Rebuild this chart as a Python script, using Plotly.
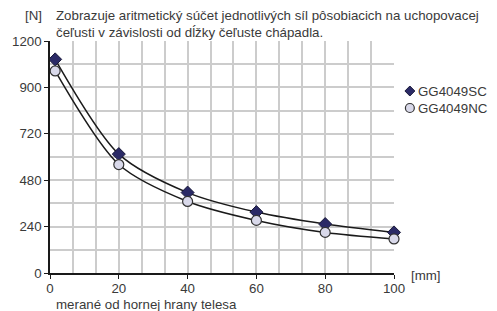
import plotly.graph_objects as go

x_sc = [1.5, 20, 40, 60, 80, 100]
y_sc = [1105, 615, 416, 315, 253, 210]
x_nc = [1.5, 20, 40, 60, 80, 100]
y_nc = [1045, 561, 370, 272, 210, 176]
series_names = ["GG4049SC", "GG4049NC"]
x_ticks = [0, 20, 40, 60, 80, 100]
y_tickvals = [0, 240, 480, 720, 960, 1200]
y_ticktext = ["0", "240", "480", "720", "900", "1200"]

FONT = "Liberation Sans, Arial, Helvetica, sans-serif"
TXT = "#3a3a3a"
SC_COL = "#2b2a66"
NC_COL = "#d9d9ea"
FS = 13.3

L, R, T, B = 47, 103, 41, 38
PW, PH = 497 - L - R, 311 - T - B


def px(xp):
    return (xp - L) / PW


def py(yp):
    return (311 - B - yp) / PH


fig = go.Figure()
for xs, ys in [(x_sc, y_sc), (x_nc, y_nc)]:
    fig.add_trace(go.Scatter(x=xs, y=ys, mode="lines",
                             line=dict(color="#1a1a1a", width=1.5, shape="spline", smoothing=0.8),
                             showlegend=False, hoverinfo="skip", cliponaxis=False))
fig.add_trace(go.Scatter(x=x_sc, y=y_sc, mode="markers", name=series_names[0], showlegend=False,
                         marker=dict(symbol="diamond", size=10, color=SC_COL, line=dict(color="#1a1a3a", width=1)),
                         cliponaxis=False))
fig.add_trace(go.Scatter(x=x_nc, y=y_nc, mode="markers", name=series_names[1], showlegend=False,
                         marker=dict(symbol="circle", size=10, color=NC_COL, line=dict(color="#333333", width=1.2)),
                         cliponaxis=False))

fig.update_layout(
    width=497, height=311,
    margin=dict(l=L, r=R, t=T, b=B),
    plot_bgcolor="white", paper_bgcolor="white",
    font=dict(family=FONT, size=FS, color=TXT),
    showlegend=False,
    xaxis=dict(range=[0, 100], tickvals=x_ticks, showgrid=True, gridcolor="#cccccc", gridwidth=1.5,
               showline=True, linecolor="#1a1a1a", linewidth=1.5, ticks="outside", ticklen=4, tickcolor="#1a1a1a",
               tickfont=dict(size=FS, color=TXT), zeroline=False, ticklabelstandoff=-2,
               minor=dict(dtick=20 / 3, tick0=0, showgrid=True, gridcolor="#cccccc", gridwidth=1.5)),
    yaxis=dict(range=[0, 1200], tickvals=y_tickvals, ticktext=y_ticktext, showgrid=True, gridcolor="#cccccc",
               gridwidth=1.5,
               showline=True, linecolor="#1a1a1a", linewidth=1.5, ticks="outside", ticklen=4, tickcolor="#1a1a1a",
               tickfont=dict(size=FS, color=TXT), zeroline=False,
               minor=dict(dtick=120, tick0=0, showgrid=True, gridcolor="#cccccc", gridwidth=1.5)),
)

annos = [
    dict(text="[N]", x=20, y=15),
    dict(text="Zobrazuje aritmetický súčet jednotlivých síl pôsobiacich na uchopovacej", x=51, y=15),
    dict(text="čeľusti v závislosti od dĺžky čeľuste chápadla.", x=51, y=33),
    dict(text="[mm]", x=409, y=275),
    dict(text="merané od hornej hrany telesa", x=51, y=304),
    dict(text=series_names[0], x=416, y=91),
    dict(text=series_names[1], x=416, y=108),
]
for a in annos:
    fig.add_annotation(text=a["text"], xref="paper", yref="paper",
                       x=px(a["x"]), y=py(a["y"]),
                       xanchor="left", yanchor="middle", showarrow=False,
                       font=dict(size=FS, color=TXT, family=FONT))

# legend symbols
cx, cy, r = 410, 91, 5
fig.add_shape(type="path", xref="paper", yref="paper",
              path=f"M {px(cx)} {py(cy - r)} L {px(cx + r)} {py(cy)} L {px(cx)} {py(cy + r)} L {px(cx - r)} {py(cy)} Z",
              fillcolor=SC_COL, line=dict(color="#1a1a3a", width=1))
cx, cy, r = 410, 108, 4.5
fig.add_shape(type="circle", xref="paper", yref="paper",
              x0=px(cx - r), x1=px(cx + r), y0=py(cy + r), y1=py(cy - r),
              fillcolor=NC_COL, line=dict(color="#333333", width=1.2))

fig.write_html("out.html", config={"displayModeBar": False},
               post_script="document.body.style.margin='0';document.body.style.overflow='hidden';")
